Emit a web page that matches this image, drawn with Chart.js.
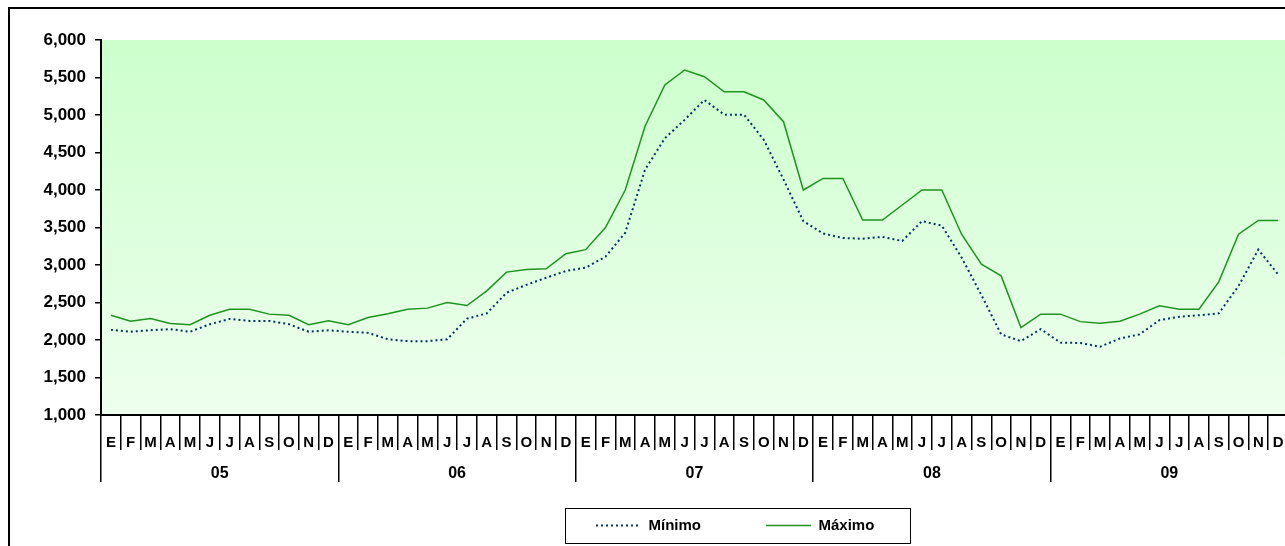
<!DOCTYPE html>
<html>
<head>
<meta charset="utf-8">
<title>Mínimo y Máximo</title>
<script src="https://cdn.jsdelivr.net/npm/chart.js@4.4.1/dist/chart.umd.min.js"></script>
<style>
html, body { margin: 0; padding: 0; background: #fff; overflow: hidden; }
#wrap { position: relative; width: 1285px; height: 546px; overflow: hidden; }
#wrap canvas { position: absolute; left: 0; top: 0; }
</style>
</head>
<body>
<div id="wrap"><canvas id="precios" width="1300" height="572"></canvas></div>
<script>
// meses y años del eje x
const meses = ["E","F","M","A","M","J","J","A","S","O","N","D"];
const anios = ["05","06","07","08","09"];

// valores mensuales 2005-2009
const minimo = [
  2135, 2110, 2130, 2145, 2110, 2210, 2280, 2255, 2255, 2210, 2110, 2130,
  2110, 2095, 2010, 1985, 1985, 2010, 2285, 2355, 2630, 2735, 2830, 2920,
  2965, 3110, 3430, 4270, 4690, 4935, 5200, 5005, 5005, 4670, 4140, 3585,
  3420, 3360, 3350, 3375, 3320, 3585, 3525, 3100, 2600, 2075, 1985, 2145,
  1965, 1960, 1910, 2020, 2075, 2265, 2310, 2330, 2355, 2720, 3205, 2875
];
const maximo = [
  2330, 2250, 2285, 2220, 2205, 2330, 2410, 2410, 2345, 2330, 2205, 2255,
  2205, 2300, 2350, 2410, 2425, 2500, 2460, 2655, 2905, 2940, 2950, 3150,
  3205, 3500, 4000, 4850, 5400, 5600, 5510, 5310, 5310, 5200, 4910, 4000,
  4155, 4155, 3600, 3600, 3800, 4000, 4000, 3410, 3010, 2855, 2165, 2345,
  2345, 2245, 2225, 2250, 2345, 2455, 2410, 2410, 2775, 3410, 3595, 3595
];

const etiquetas = anios.flatMap(() => meses);
const fuente = "'Liberation Sans', Arial, sans-serif";

// marco, fondo degradado y caja de la leyenda
const marco = {
  id: 'marco',
  afterLayout(chart) {
    const lg = chart.legend;
    const w = lg.width, h = lg.height;
    lg.left = 531; lg.right = lg.left + w;
    lg.top = 453; lg.bottom = lg.top + h;
  },
  beforeDraw(chart) {
    const {ctx, chartArea: a} = chart;
    ctx.save();
    ctx.strokeStyle = '#000';
    ctx.lineWidth = 2;
    ctx.strokeRect(9, 8, 1400, 700);
    const g = ctx.createLinearGradient(0, a.top, 0, a.bottom);
    g.addColorStop(0, '#ccffcc');
    g.addColorStop(1, '#eeffee');
    ctx.fillStyle = g;
    ctx.fillRect(a.left, a.top, a.right - a.left, a.bottom - a.top);
    ctx.restore();
  },
  afterDraw(chart) {
    const ctx = chart.ctx;
    ctx.save();
    ctx.strokeStyle = '#000';
    ctx.lineWidth = 1;
    ctx.strokeRect(565.5, 508.5, 345, 35);
    ctx.restore();
  }
};

const chart = new Chart(document.getElementById('precios'), {
  type: 'line',
  data: {
    labels: etiquetas,
    datasets: [{
      label: 'Mínimo',
      data: minimo,
      borderColor: '#003366',
      borderWidth: 2,
      borderDash: [2, 3],
      pointRadius: 0,
      fill: false
    }, {
      label: 'Máximo',
      data: maximo,
      borderColor: '#1f931f',
      borderWidth: 1.5,
      pointRadius: 0,
      fill: false
    }]
  },
  options: {
    responsive: false,
    animation: false,
    layout: { padding: { top: 40, right: 12, bottom: 0, left: 0 } },
    plugins: {
      tooltip: { enabled: false },
      legend: {
        position: 'bottom',
        align: 'start',
        labels: {
          usePointStyle: true,
          pointStyleWidth: 45,
          padding: 65,
          color: '#000',
          font: { family: fuente, size: 15, weight: 'bold' },
          generateLabels(c) {
            return Chart.defaults.plugins.legend.labels.generateLabels(c).map(it => {
              const ds = c.data.datasets[it.datasetIndex];
              return Object.assign(it, {
                pointStyle: 'line',
                strokeStyle: ds.borderColor,
                lineWidth: ds.borderWidth,
                lineDash: ds.borderDash || []
              });
            });
          }
        }
      }
    },
    scales: {
      y: {
        min: 1000,
        max: 6000,
        ticks: {
          stepSize: 500,
          padding: 9,
          color: '#000',
          font: { family: fuente, size: 17, weight: 'bold' },
          callback: v => v.toLocaleString('en-US')
        },
        grid: { drawOnChartArea: false, tickLength: 6, color: '#000', lineWidth: 1.5 },
        border: { color: '#000', width: 2 },
        afterFit(s) { s.width = 101; }
      },
      x: {
        offset: true,
        weight: 0,
        ticks: {
          autoSkip: false,
          maxRotation: 0,
          padding: -16,
          color: '#000',
          font: { family: fuente, size: 15, weight: 'bold' }
        },
        grid: { offset: true, drawOnChartArea: false, tickLength: 35, color: '#000', lineWidth: 1.5 },
        border: { color: '#000', width: 2 },
        afterFit(s) { s.height = 35; }
      },
      x2: {
        type: 'category',
        labels: anios,
        position: 'bottom',
        offset: true,
        weight: 1,
        ticks: {
          maxRotation: 0,
          padding: -17.6,
          color: '#000',
          font: { family: fuente, size: 16, weight: 'bold' }
        },
        grid: { offset: true, drawOnChartArea: false, tickLength: 32, color: '#000', lineWidth: 1.5 },
        border: { display: false },
        afterFit(s) { s.height = 32; }
      }
    }
  },
  plugins: [marco]
});
</script>
</body>
</html>
